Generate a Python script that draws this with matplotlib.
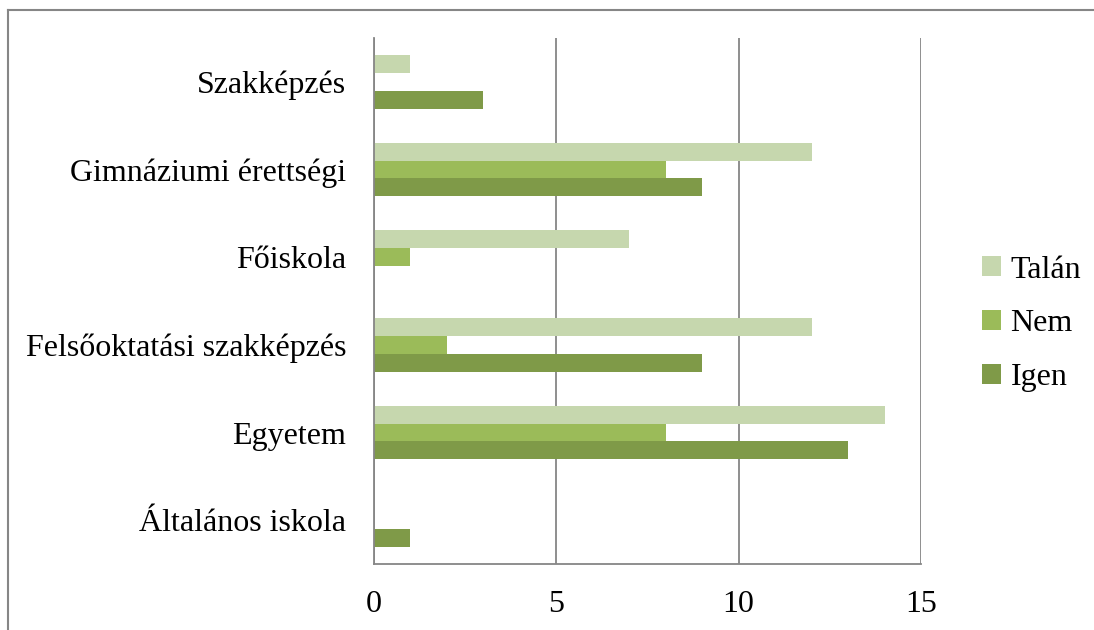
import numpy as np
import matplotlib.pyplot as plt
from matplotlib.lines import Line2D

plt.rcParams['font.family'] = ['Liberation Serif', 'DejaVu Serif']

categories = ["Általános iskola", "Egyetem", "Felsőoktatási szakképzés",
              "Főiskola", "Gimnáziumi érettségi", "Szakképzés"]
igen = [1, 13, 9, 0, 9, 3]
nem = [0, 8, 2, 1, 8, 0]
talan = [0, 14, 12, 7, 12, 1]

series = [("Igen", igen, "#7F9A48"),
          ("Nem", nem, "#9BBB59"),
          ("Talán", talan, "#C6D7AE")]

W, H = 1094, 630
fig = plt.figure(figsize=(W / 100, H / 100), dpi=100)
ax = fig.add_axes([374 / W, 1 - 564 / H, (921 - 374) / W, (564 - 38) / H])

y = np.arange(len(categories))
h = 0.205
handles = []
for i, (name, vals, col) in enumerate(series):
    b = ax.barh(y + (i - 1) * h, vals, height=h, color=col,
                linewidth=0, zorder=3, label=name)
    handles.append(b)

ax.set_xlim(0, 15)
ax.set_ylim(-0.5, len(categories) - 0.5)
ax.set_xticks([0, 5, 10, 15])
ax.set_yticks(y)
ax.set_yticklabels(categories, fontsize=23)
ax.tick_params(axis="x", labelsize=23, length=0, pad=19)
ax.tick_params(axis="y", length=0, pad=20)
ax.grid(axis="x", color="#868686", linewidth=1.3, zorder=0)

for s in ["top", "right"]:
    ax.spines[s].set_visible(False)
for s in ["left", "bottom"]:
    ax.spines[s].set_color("#868686")
    ax.spines[s].set_linewidth(1.3)
    ax.spines[s].set_zorder(4)

# legend in reverse order, top entry is Talán
leg = fig.legend(handles[::-1], [s[0] for s in series[::-1]],
                 loc="center left", bbox_to_anchor=(953 / W, 1 - 324 / H),
                 frameon=False, fontsize=23, handlelength=0.6, handleheight=0.6,
                 handletextpad=0.3, labelspacing=0.78)

# outer frame (left and top edges)
fig.add_artist(Line2D([8 / W, 8 / W], [0, 1 - 10 / H], transform=fig.transFigure,
                      color="#868686", linewidth=1.5))
fig.add_artist(Line2D([8 / W, 1], [1 - 10 / H, 1 - 10 / H], transform=fig.transFigure,
                      color="#868686", linewidth=1.5))

fig.savefig("out.png", dpi=100, facecolor="white")
